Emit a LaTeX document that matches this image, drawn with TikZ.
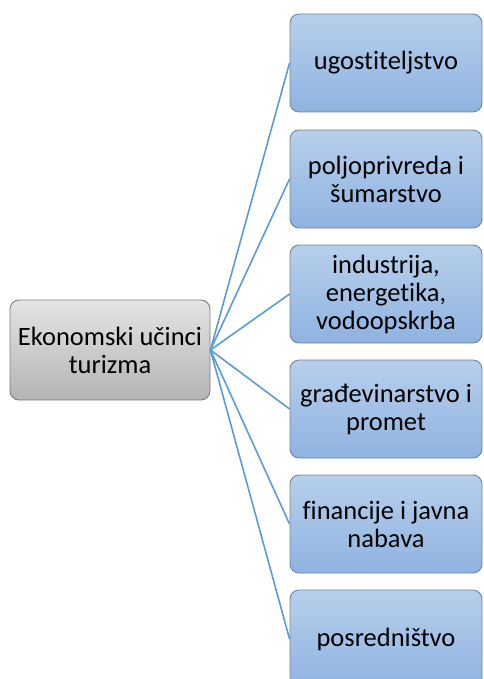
\documentclass[tikz,border=0pt]{standalone}
\usepackage{fontspec}
\setmainfont[Ligatures={NoCommon}]{Carlito}
\usepackage{tikz}
\usetikzlibrary{positioning, calc}

\definecolor{lineblue}{HTML}{5B9BD5}
\definecolor{boxtop}{HTML}{B7CFEC}
\definecolor{boxbot}{HTML}{8FB3E0}
\definecolor{boxedge}{HTML}{6F85A3}
\definecolor{greytop}{HTML}{E4E4E4}
\definecolor{greybot}{HTML}{B4B4B4}
\definecolor{greyedge}{HTML}{7F7F7F}

\tikzset{
  mainbox/.style={draw=greyedge, line width=0.9pt, rounded corners=9pt, top color=greytop, bottom color=greybot,
    minimum width=200pt, minimum height=100pt, align=center, font=\fontsize{26.5}{28}\selectfont},
  sectorbox/.style={draw=boxedge, line width=0.9pt, rounded corners=9pt, top color=boxtop, bottom color=boxbot,
    minimum width=192pt, minimum height=98pt, align=center, font=\fontsize{26.5}{28}\selectfont},
  link/.style={draw=lineblue, line width=1.6pt}
}

\begin{document}
\begin{tikzpicture}[x=1pt, y=-1pt]
    \useasboundingbox (0,0) rectangle (483,679);
    \clip (0,0) rectangle (483,679);
    \node[mainbox] (econ) at (110,350) {Ekonomski učinci\\turizma};
    \foreach \name/\ypos/\txt in {ugo/63/{ugostiteljstvo}, polj/179/{poljoprivreda i\\šumarstvo},
        ind/294/{industrija,\\energetika,\\vodoopskrba}, grad/409/{građevinarstvo i\\promet},
        fin/524/{financije i javna\\nabava}, posr/639/{posredništvo}} {
        \node[sectorbox] (\name) at (386,\ypos) {\txt};
        \draw[link] (econ.east) -- (\name.west);
    }
\end{tikzpicture}
\end{document}
